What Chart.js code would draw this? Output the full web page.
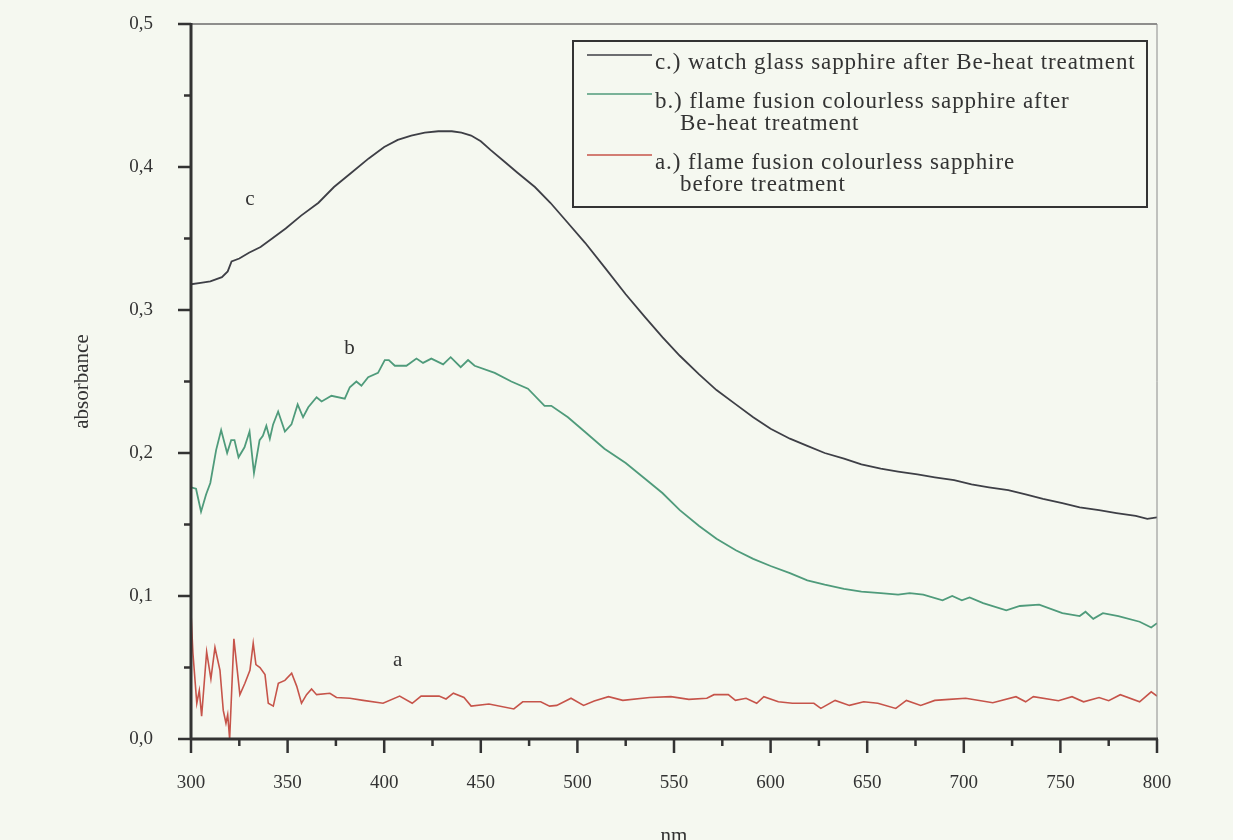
<!DOCTYPE html>
<html>
<head>
<meta charset="utf-8">
<script src="https://cdn.jsdelivr.net/npm/chart.js@4.4.1/dist/chart.umd.min.js"></script>
<style>
  html, body { margin: 0; padding: 0; background: #f5f8f0; }
  #wrap { width: 1233px; height: 840px; }
</style>
</head>
<body>
<div id="wrap"><canvas id="chart" width="1233" height="840"></canvas></div>
<script>
// ---- data (wavelength nm / absorbance) ----
const cX = [300, 305, 310, 316, 319, 321, 325, 330, 336, 342, 349, 357, 366, 374, 383, 392, 400, 407, 414, 421, 428, 435, 440, 445, 450, 455, 462, 469, 478, 486, 495, 504, 514, 525, 535, 544, 553, 563, 572, 582, 591, 600, 610, 619, 628, 638, 647, 657, 666, 676, 685, 695, 704, 713, 723, 732, 741, 751, 760, 770, 779, 789, 795, 800];
const cY = [0.318, 0.319, 0.320, 0.323, 0.327, 0.334, 0.336, 0.340, 0.344, 0.350, 0.357, 0.366, 0.375, 0.386, 0.396, 0.406, 0.414, 0.419, 0.422, 0.424, 0.425, 0.425, 0.424, 0.422, 0.418, 0.412, 0.404, 0.396, 0.386, 0.375, 0.361, 0.347, 0.330, 0.311, 0.295, 0.281, 0.268, 0.255, 0.244, 0.234, 0.225, 0.217, 0.210, 0.205, 0.200, 0.196, 0.192, 0.189, 0.187, 0.185, 0.183, 0.181, 0.178, 0.176, 0.174, 0.171, 0.168, 0.165, 0.162, 0.160, 0.158, 0.156, 0.154, 0.155];

const bX = [300, 302.6, 305.2, 307.8, 310, 313, 315.6, 318.7, 320.8, 322.5, 324.6, 327.7, 330.3, 332.6, 335.5, 337.2, 339, 340.8, 342.5, 345.1, 348.6, 352, 355.2, 358, 360.7, 365, 367.6, 372.7, 379.6, 382.2, 385.6, 388.2, 391.7, 396.8, 400.3, 402.4, 405.5, 411.5, 416.7, 420.1, 424.4, 430.5, 434.4, 439.6, 443.4, 446.8, 457.2, 465.8, 474.4, 483, 486.5, 495.1, 503.7, 514, 525, 535, 544, 553, 563, 572, 582, 591, 600, 610, 619, 628, 638, 647, 657, 666, 672, 679, 689, 694, 699, 703, 710, 722, 729, 739, 751, 760, 763, 767, 772, 780, 791, 797, 800];
const bY = [0.176, 0.175, 0.159, 0.171, 0.179, 0.202, 0.216, 0.200, 0.209, 0.209, 0.197, 0.204, 0.215, 0.186, 0.209, 0.212, 0.219, 0.210, 0.220, 0.229, 0.215, 0.220, 0.234, 0.225, 0.232, 0.239, 0.236, 0.240, 0.238, 0.246, 0.250, 0.247, 0.253, 0.256, 0.265, 0.265, 0.261, 0.261, 0.266, 0.263, 0.266, 0.262, 0.267, 0.260, 0.265, 0.261, 0.256, 0.250, 0.245, 0.233, 0.233, 0.225, 0.215, 0.203, 0.193, 0.182, 0.172, 0.160, 0.149, 0.140, 0.132, 0.126, 0.121, 0.116, 0.111, 0.108, 0.105, 0.103, 0.102, 0.101, 0.102, 0.101, 0.097, 0.100, 0.097, 0.099, 0.095, 0.090, 0.093, 0.094, 0.088, 0.086, 0.089, 0.084, 0.088, 0.086, 0.082, 0.078, 0.081];

const aX = [300, 301, 303, 304.3, 305.5, 308.1, 310.3, 312.4, 315, 316.7, 318.1, 319, 320, 322.2, 325.3, 327.9, 330.5, 332.2, 333.6, 335.7, 338.3, 340, 342.6, 345.2, 348.6, 352.1, 354.7, 357.2, 359.8, 362.4, 365, 371.9, 375.3, 382.2, 389.1, 399.4, 408, 414.5, 419.1, 428.4, 432, 435.8, 441.3, 445, 454.2, 467.1, 471.7, 481, 485.6, 489.3, 496.7, 503.2, 508.7, 516.1, 523.5, 537.4, 548.4, 557.7, 567, 570.7, 578.1, 581.8, 587.3, 592.8, 596.5, 604, 611.3, 622.4, 626, 633.4, 640.8, 648.2, 655.5, 664.8, 670.3, 677.7, 685, 692.4, 701, 715, 727, 732, 736, 749, 756, 762, 770, 775, 781, 791, 797, 800];
const aY = [0.088, 0.060, 0.025, 0.034, 0.016, 0.061, 0.042, 0.064, 0.048, 0.020, 0.011, 0.017, 0.000, 0.070, 0.031, 0.039, 0.048, 0.067, 0.052, 0.050, 0.045, 0.025, 0.023, 0.039, 0.041, 0.046, 0.037, 0.025, 0.031, 0.035, 0.031, 0.032, 0.029, 0.0285, 0.027, 0.025, 0.030, 0.025, 0.030, 0.030, 0.028, 0.032, 0.029, 0.023, 0.0245, 0.021, 0.026, 0.026, 0.023, 0.0235, 0.0285, 0.0235, 0.0266, 0.0296, 0.027, 0.029, 0.0296, 0.0277, 0.0285, 0.031, 0.031, 0.027, 0.0285, 0.025, 0.0296, 0.026, 0.025, 0.025, 0.0214, 0.027, 0.0235, 0.026, 0.025, 0.0214, 0.027, 0.0235, 0.027, 0.0277, 0.0285, 0.0254, 0.0296, 0.026, 0.0296, 0.0268, 0.0296, 0.026, 0.029, 0.0268, 0.031, 0.026, 0.033, 0.030];

const legendC = ["c.) watch glass sapphire after Be-heat treatment"];
const legendB = ["b.) flame fusion colourless sapphire after", "Be-heat treatment"];
const legendA = ["a.) flame fusion colourless sapphire", "before treatment"];

const xTitle = "nm";
const yTitle = "absorbance";

// ---- look ----
const SERIF = "'Liberation Serif', 'DejaVu Serif', serif";
const BG = "#f5f8f0";
const INK = "#333333";
const COL_C = "#3e3f46";
const COL_B = "#4f9b7b";
const COL_A = "#c6544a";

const toPts = (xs, ys) => xs.map((x, i) => ({ x: x, y: ys[i] }));

const frame = {
  id: "frame",
  beforeDraw(chart) {
    const ctx = chart.ctx;
    ctx.save();
    ctx.fillStyle = BG;
    ctx.fillRect(0, 0, chart.width, chart.height);
    ctx.restore();
  },
  afterDraw(chart) {
    const ctx = chart.ctx;
    const xs = chart.scales.x, ys = chart.scales.y;
    const a = chart.chartArea;
    ctx.save();

    // top + right thin border
    ctx.strokeStyle = "#6b6b6b";
    ctx.lineWidth = 1.5;
    ctx.beginPath();
    ctx.moveTo(a.left, a.top);
    ctx.lineTo(a.right, a.top);
    ctx.stroke();
    ctx.strokeStyle = "#8a8a8a";
    ctx.lineWidth = 1;
    ctx.beginPath();
    ctx.moveTo(a.right, a.top);
    ctx.lineTo(a.right, a.bottom);
    ctx.stroke();

    // main axes
    ctx.strokeStyle = INK;
    ctx.lineWidth = 3;
    ctx.beginPath();
    ctx.moveTo(a.left, a.top - 1);
    ctx.lineTo(a.left, a.bottom + 1);
    ctx.moveTo(a.left - 1, a.bottom);
    ctx.lineTo(a.right + 1, a.bottom);
    ctx.stroke();

    // y ticks (major 0.1, minor 0.05)
    ctx.lineWidth = 2.5;
    for (let i = 0; i <= 10; i++) {
      const py = ys.getPixelForValue(i * 0.05);
      const len = i % 2 === 0 ? 13 : 7;
      ctx.beginPath();
      ctx.moveTo(a.left - len, py);
      ctx.lineTo(a.left, py);
      ctx.stroke();
    }
    // x ticks (major 50, minor 25)
    for (let v = 300; v <= 800; v += 25) {
      const px = xs.getPixelForValue(v);
      const len = v % 50 === 0 ? 14 : 7;
      ctx.beginPath();
      ctx.moveTo(px, a.bottom);
      ctx.lineTo(px, a.bottom + len);
      ctx.stroke();
    }

    // curve letters
    ctx.fillStyle = INK;
    ctx.font = "21px " + SERIF;
    ctx.textAlign = "center";
    ctx.textBaseline = "middle";
    ctx.fillText("c", xs.getPixelForValue(330.5), ys.getPixelForValue(0.377));
    ctx.fillText("b", xs.getPixelForValue(382), ys.getPixelForValue(0.273));
    ctx.fillText("a", xs.getPixelForValue(407), ys.getPixelForValue(0.055));

    // legend box
    const bx = 573, by = 41, bw = 574, bh = 166;
    ctx.strokeStyle = INK;
    ctx.lineWidth = 2;
    ctx.strokeRect(bx, by, bw, bh);

    const rows = [
      { lines: legendC, color: COL_C, y: 63 },
      { lines: legendB, color: COL_B, y: 102 },
      { lines: legendA, color: COL_A, y: 163 },
    ];
    ctx.textAlign = "left";
    ctx.font = "23px " + SERIF;
    if ("letterSpacing" in ctx) ctx.letterSpacing = "0.9px";
    rows.forEach((r) => {
      ctx.strokeStyle = r.color;
      ctx.lineWidth = 1.5;
      ctx.beginPath();
      ctx.moveTo(587, r.y - 8);
      ctx.lineTo(652, r.y - 8);
      ctx.stroke();
      ctx.fillStyle = INK;
      r.lines.forEach((t, j) => {
        ctx.fillText(t, j === 0 ? 655 : 680, r.y + j * 22);
      });
    });

    ctx.restore();
  },
};

const ctx = document.getElementById("chart").getContext("2d");
new Chart(ctx, {
  type: "line",
  data: {
    datasets: [
      { label: legendC.join(" "), data: toPts(cX, cY), borderColor: COL_C, borderWidth: 1.8 },
      { label: legendB.join(" "), data: toPts(bX, bY), borderColor: COL_B, borderWidth: 1.8 },
      { label: legendA.join(" "), data: toPts(aX, aY), borderColor: COL_A, borderWidth: 1.6 },
    ],
  },
  options: {
    responsive: false,
    animation: false,
    devicePixelRatio: 1,
    layout: { padding: { top: 24, right: 76, bottom: 0, left: 0 } },
    elements: { point: { radius: 0 }, line: { tension: 0, fill: false } },
    plugins: { legend: { display: false }, tooltip: { enabled: false } },
    scales: {
      x: {
        type: "linear",
        position: "bottom",
        min: 300,
        max: 800,
        grid: { display: false, drawTicks: false },
        border: { display: false },
        ticks: {
          stepSize: 50,
          padding: 33,
          maxRotation: 0,
          autoSkip: false,
          color: INK,
          font: { family: SERIF, size: 19 },
        },
        title: {
          display: true,
          text: xTitle,
          color: INK,
          font: { family: SERIF, size: 21, lineHeight: 1 },
          padding: { top: 0, bottom: -7 },
        },
        afterFit: (s) => {
          s.height = 101;
          s.paddingLeft = 0;
          s.paddingRight = 0;
        },
      },
      y: {
        type: "linear",
        min: 0,
        max: 0.5,
        grid: { display: false, drawTicks: false },
        border: { display: false },
        ticks: {
          stepSize: 0.1,
          padding: 38,
          color: INK,
          font: { family: SERIF, size: 19 },
          callback: (v) => v.toFixed(1).replace(".", ","),
        },
        title: {
          display: true,
          text: yTitle,
          color: INK,
          font: { family: SERIF, size: 21, lineHeight: 1.2 },
          padding: { top: 70, bottom: 0 },
        },
        afterFit: (s) => {
          s.width = 191;
          s.paddingTop = 0;
          s.paddingBottom = 0;
        },
      },
    },
  },
  plugins: [frame],
});
</script>
</body>
</html>
